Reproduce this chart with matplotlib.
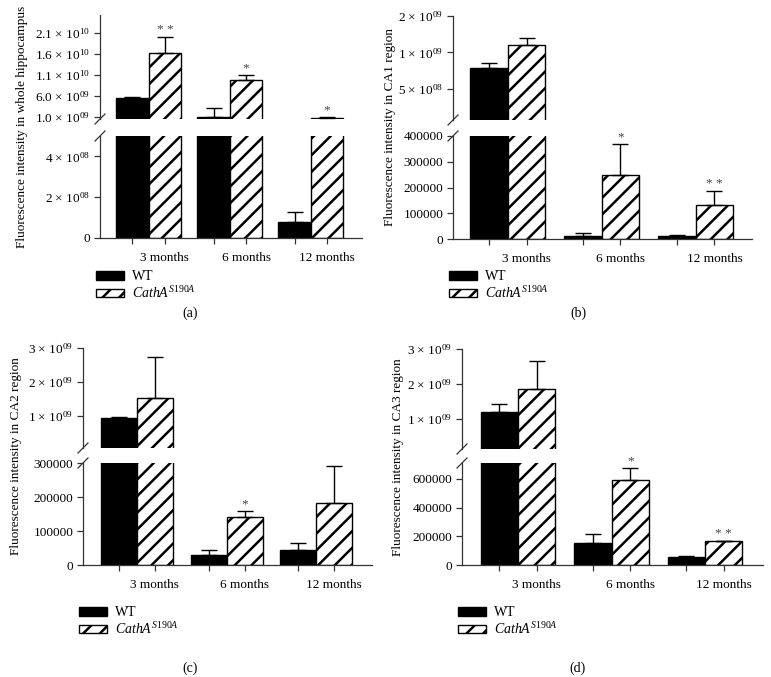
import matplotlib
matplotlib.use("Agg")
import matplotlib.pyplot as plt
from matplotlib.patches import Patch

plt.rcParams["font.family"] = "Liberation Serif"
plt.rcParams["mathtext.fontset"] = "custom"
plt.rcParams["mathtext.rm"] = "Liberation Serif"
plt.rcParams["mathtext.it"] = "Liberation Serif:italic"
plt.rcParams["hatch.linewidth"] = 1.8
plt.rcParams["axes.linewidth"] = 0.9

W, H = 771, 677

months = ["3 months", "6 months", "12 months"]
groups = [0, 1, 2]

# panel (a) whole hippocampus
a_wt = [5.5e9, 0.95e9, 7.8e7]
a_wt_err = [0.2e9, 2.15e9, 4.9e7]
a_ko = [1.62e10, 9.8e9, 0.7e9]
a_ko_err = [3.9e9, 1.2e9, 0.3e9]
a_stars = ["**", "*", "*"]

# panel (b) CA1
b_wt = [7.35e8, 1.2e4, 1.1e4]
b_wt_err = [0.85e8, 1.1e4, 0.3e4]
b_ko = [1.15e9, 2.47e5, 1.33e5]
b_ko_err = [0.17e9, 1.23e5, 0.54e5]
b_stars = ["", "*", "**"]

# panel (c) CA2
c_wt = [0.94e9, 3.0e4, 4.5e4]
c_wt_err = [0.02e9, 1.5e4, 2.0e4]
c_ko = [1.53e9, 1.4e5, 1.83e5]
c_ko_err = [1.21e9, 0.18e5, 1.07e5]
c_stars = ["", "*", ""]

# panel (d) CA3
d_wt = [1.2e9, 1.53e5, 5.6e4]
d_wt_err = [0.23e9, 0.63e5, 0.07e5]
d_ko = [1.86e9, 5.93e5, 1.67e5]
d_ko_err = [0.8e9, 0.84e5, 0.03e5]
d_stars = ["", "*", "**"]


def sci(m, e):
    return m + r" × 10$^{" + e + "}$"


panels = [
    dict(wt=a_wt, wte=a_wt_err, ko=a_ko, koe=a_ko_err, stars=a_stars,
         box=(100, 362, 15, 119, 136, 238), xl=(-0.6, 2.63),
         up=(5.2e8, 2.53e10), uplog=False,
         upt=[1e9, 6e9, 1.1e10, 1.6e10, 2.1e10],
         uptl=[sci("1.0", "09"), sci("6.0", "09"), sci("1.1", "10"), sci("1.6", "10"), sci("2.1", "10")],
         lo=(0, 5e8), lot=[0, 2e8, 4e8], lotl=["0", sci("2", "08"), sci("4", "08")],
         ylabel="Fluorescence intensity in whole hippocampus", ylx=22,
         leg=(96, 270), tag="(a)", tagxy=(190, 313)),
    dict(wt=b_wt, wte=b_wt_err, ko=b_ko, koe=b_ko_err, stars=b_stars,
         box=(453, 752, 16, 120, 136, 239), xl=(-0.583, 2.6),
         up=(2.75e8, 2e9), uplog=True,
         upt=[5e8, 1e9, 2e9], uptl=[sci("5", "08"), sci("1", "09"), sci("2", "09")],
         lo=(0, 4e5), lot=[0, 1e5, 2e5, 3e5, 4e5],
         lotl=["0", "100000", "200000", "300000", "400000"],
         ylabel="Fluorescence intensity in CA1 region", ylx=390,
         leg=(449, 270), tag="(b)", tagxy=(578, 313)),
    dict(wt=c_wt, wte=c_wt_err, ko=c_ko, koe=c_ko_err, stars=c_stars,
         box=(83, 372, 348, 448, 463, 565), xl=(-0.6, 2.62),
         up=(6e7, 3e9), uplog=False,
         upt=[1e9, 2e9, 3e9], uptl=[sci("1", "09"), sci("2", "09"), sci("3", "09")],
         lo=(0, 3e5), lot=[0, 1e5, 2e5, 3e5],
         lotl=["0", "100000", "200000", "300000"],
         ylabel="Fluorescence intensity in CA2 region", ylx=16,
         leg=(79, 606), tag="(c)", tagxy=(190, 668)),
    dict(wt=d_wt, wte=d_wt_err, ko=d_ko, koe=d_ko_err, stars=d_stars,
         box=(462, 763, 349, 449, 463, 565), xl=(-0.6, 2.62),
         up=(1.4e8, 3e9), uplog=False,
         upt=[1e9, 2e9, 3e9], uptl=[sci("1", "09"), sci("2", "09"), sci("3", "09")],
         lo=(0, 7.1e5), lot=[0, 2e5, 4e5, 6e5],
         lotl=["0", "200000", "400000", "600000"],
         ylabel="Fluorescence intensity in CA3 region", ylx=398,
         leg=(458, 606), tag="(d)", tagxy=(578, 668)),
]

fig = plt.figure(figsize=(W / 100, H / 100), dpi=100)
axis_col = "#333333"
bw = 0.4

for p in panels:
    x0, x1, uy0, uy1, ly0, ly1 = p["box"]
    ax_up = fig.add_axes([x0 / W, 1 - uy1 / H, (x1 - x0) / W, (uy1 - uy0) / H])
    ax_lo = fig.add_axes([x0 / W, 1 - ly1 / H, (x1 - x0) / W, (ly1 - ly0) / H])
    xw = [g - bw / 2 for g in groups]
    xk = [g + bw / 2 for g in groups]
    for ax in (ax_up, ax_lo):
        ax.bar(xw, p["wt"], width=bw, color="black", edgecolor="black", linewidth=1)
        ax.bar(xk, p["ko"], width=bw, color="white", edgecolor="black", linewidth=1, hatch="//")
        ax.errorbar(xw, p["wt"], yerr=[[0] * 3, p["wte"]], fmt="none", ecolor="black",
                    elinewidth=1, capsize=6, capthick=1)
        ax.errorbar(xk, p["ko"], yerr=[[0] * 3, p["koe"]], fmt="none", ecolor="black",
                    elinewidth=1, capsize=6, capthick=1)
        ax.set_xlim(*p["xl"])
        for s in ("top", "right"):
            ax.spines[s].set_visible(False)
        ax.spines["left"].set_color(axis_col)
        ax.spines["bottom"].set_color(axis_col)
        ax.tick_params(axis="y", direction="out", length=4, width=0.9, color=axis_col,
                       labelsize=9.5, pad=3)
    if p["uplog"]:
        ax_up.set_yscale("log")
        ax_up.minorticks_off()
    ax_up.set_ylim(*p["up"])
    ax_up.set_yticks(p["upt"])
    ax_up.set_yticklabels(p["uptl"])
    ax_up.spines["bottom"].set_visible(False)
    ax_up.set_xticks([])
    ax_lo.set_ylim(*p["lo"])
    ax_lo.set_yticks(p["lot"])
    ax_lo.set_yticklabels(p["lotl"])
    ax_lo.set_xticks(xw + xk)
    ax_lo.set_xticklabels([""] * 3 + months)
    ax_lo.tick_params(axis="x", direction="out", length=4, width=0.9, color=axis_col,
                      labelsize=9.5, pad=6)

    # break marks on the y axis (about 10 px across)
    for ax, yy in ((ax_up, 0.0), (ax_lo, 1.0)):
        bb = ax.get_position()
        dx = 5 / W / bb.width
        dy = 5 / H / bb.height
        ax.plot([-dx, dx], [yy - dy, yy + dy], transform=ax.transAxes, color=axis_col,
                lw=0.9, clip_on=False)

    # significance stars above the knockout bars
    for g, v, e, s in zip(xk, p["ko"], p["koe"], p["stars"]):
        if not s:
            continue
        top = v + e
        ax = ax_up if top > p["lo"][1] else ax_lo
        ax.annotate(" ".join(s), (g, top), xytext=(0, 0.5), textcoords="offset points",
                    ha="center", va="bottom", fontsize=9.5, color="#444444")

    yc = 1 - (uy0 + ly1) / 2 / H
    fig.text(p["ylx"] / W, yc, p["ylabel"], rotation=90, ha="center", va="center",
             fontsize=9.5)

    handles = [Patch(facecolor="black", edgecolor="black"),
               Patch(facecolor="white", edgecolor="black", hatch="//")]
    fig.legend(handles, ["WT", r"$\mathit{CathA}^{S190A}$"], loc="upper left",
               bbox_to_anchor=(p["leg"][0] / W, 1 - p["leg"][1] / H), frameon=False,
               fontsize=10, handlelength=2.0, handleheight=0.6, handletextpad=0.6,
               labelspacing=0.15, borderaxespad=0, borderpad=0)
    fig.text(p["tagxy"][0] / W, 1 - p["tagxy"][1] / H, p["tag"], ha="center",
             va="center", fontsize=10)

fig.savefig("out.png", dpi=100)
